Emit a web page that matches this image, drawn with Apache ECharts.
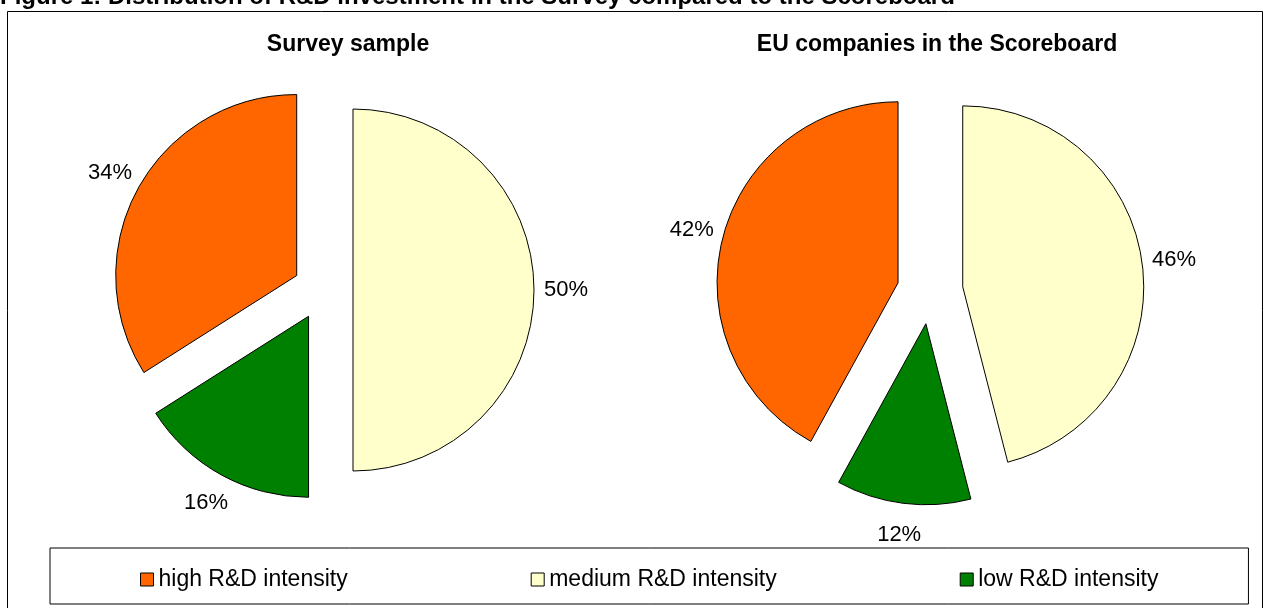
<!DOCTYPE html>
<html><head><meta charset="utf-8">
<script src="https://cdn.jsdelivr.net/npm/echarts@6/dist/echarts.min.js"></script>
<style>html,body{margin:0;padding:0;background:#fff}#c{width:1270px;height:608px}</style>
</head><body><div id="c"></div>
<script>
const figureTitle = 'Figure 1: Distribution of R&D investment in the Survey compared to the Scoreboard';
const categories = ['high R&D intensity', 'medium R&D intensity', 'low R&D intensity'];
const surveyValues = [34, 50, 16];
const scoreboardValues = [42, 46, 12];
const pieTitles = ['Survey sample', 'EU companies in the Scoreboard'];
const colors = ['#FF6600', '#FFFFCC', '#008000'];
const drawOrder = [1, 2, 0]; // clockwise from 12 o'clock: medium, low, high

const FONT = '"Liberation Sans", Arial, sans-serif';

function pieData(values) {
  return drawOrder.map(i => ({
    name: categories[i], value: values[i], selected: true,
    itemStyle: { color: colors[i] }
  }));
}

function pieSeries(values, center, offset) {
  return {
    type: 'pie',
    center: center,
    radius: 181,
    startAngle: 90,
    clockwise: true,
    selectedMode: 'multiple',
    selectedOffset: offset,
    avoidLabelOverlap: false,
    animation: false,
    itemStyle: { borderColor: '#000', borderWidth: 1 },
    select: { itemStyle: { borderColor: '#000', borderWidth: 1 } },
    emphasis: { disabled: true },
    label: {
      show: true, position: 'outside', alignTo: 'none', distanceToLabelLine: 0,
      formatter: '{c}%', fontSize: 22, color: '#000', fontFamily: FONT
    },
    labelLine: { show: false, length: 32, length2: 0 },
    labelLayout: function (p) {
      const w = p.labelRect.width;
      return { dx: p.align === 'right' ? w / 2 : (p.align === 'left' ? -w / 2 : 0) };
    },
    data: pieData(values)
  };
}

const chart = echarts.init(document.getElementById('c'), null, { renderer: 'canvas' });
chart.setOption({
  animation: false,
  backgroundColor: '#fff',
  title: [
    { text: pieTitles[0], left: 348, top: 33, textAlign: 'center', padding: 0,
      textStyle: { fontSize: 23, fontWeight: 'bold', color: '#000', fontFamily: FONT } },
    { text: pieTitles[1], left: 937, top: 33, textAlign: 'center', padding: 0,
      textStyle: { fontSize: 23, fontWeight: 'bold', color: '#000', fontFamily: FONT } }
  ],
  legend: {
    data: categories,
    left: 50, top: 548,
    padding: [20, 90, 13, 90],
    itemGap: 183,
    itemWidth: 13, itemHeight: 13,
    icon: 'rect',
    itemStyle: { borderColor: '#000', borderWidth: 1 },
    borderColor: '#000', borderWidth: 1,
    selectedMode: false,
    textStyle: { fontSize: 23, color: '#000', fontFamily: FONT }
  },
  graphic: [
    { type: 'rect', silent: true, z: -10,
      shape: { x: 7.5, y: 11.5, width: 1255, height: 700 },
      style: { fill: 'none', stroke: '#000', lineWidth: 1 } },
    { type: 'text', silent: true, x: 0, y: -3,
      style: { text: figureTitle, font: 'bold 24px ' + FONT, fill: '#000', verticalAlign: 'middle' } }
  ],
  series: [
    pieSeries(surveyValues, [323, 290], 30),
    pieSeries(scoreboardValues, [930, 291], 33)
  ]
});
</script>
</body></html>
